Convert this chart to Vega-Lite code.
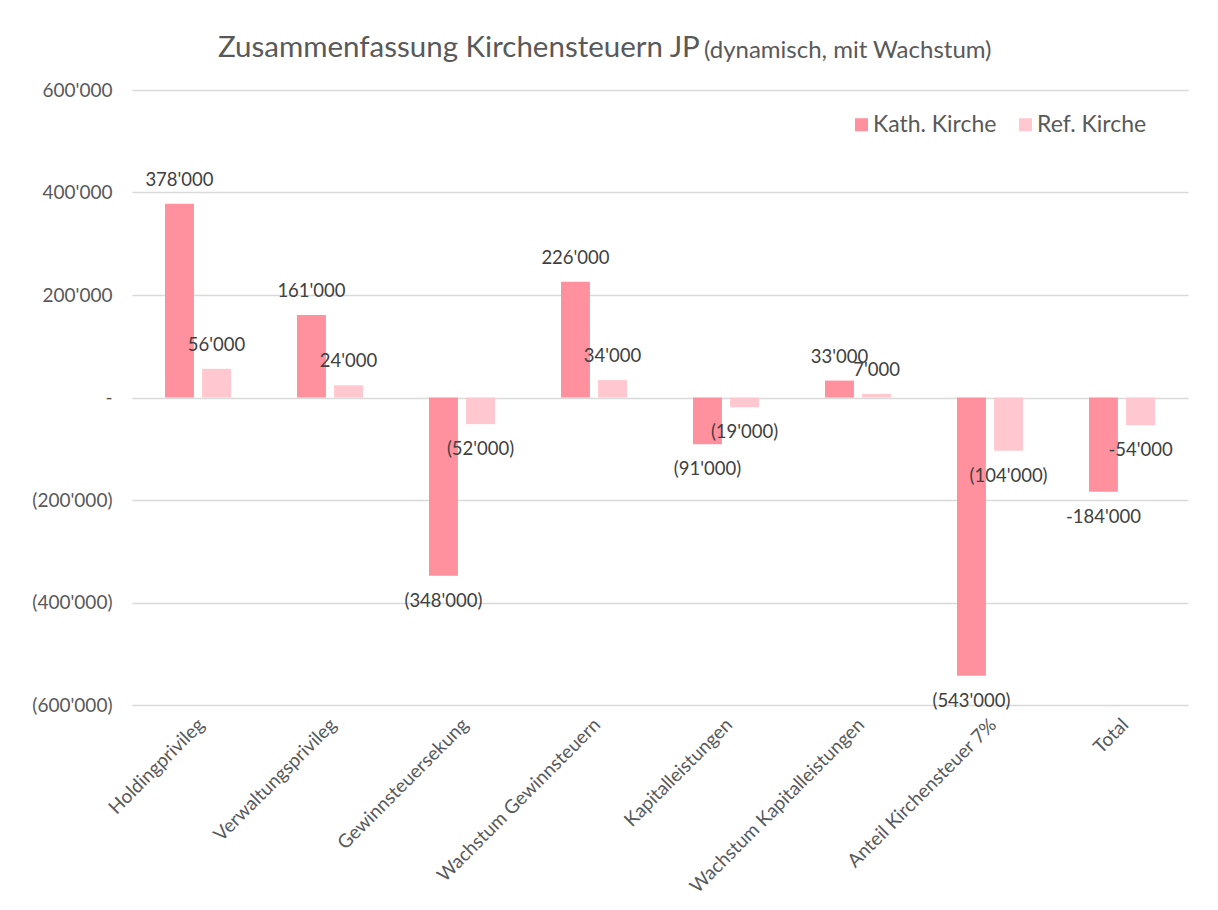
{
  "$schema": "https://vega.github.io/schema/vega-lite/v6.json",
  "width": 1056,
  "height": 615,
  "autosize": {"type": "none"},
  "padding": {"left": 132, "top": 90, "right": 30, "bottom": 205},
  "background": "white",
  "config": {
    "font": "Lato",
    "view": {"stroke": null}
  },
  "title": {
    "text": "Zusammenfassung Kirchensteuern JP",
    "subtitle": "\u200B\u2003\u2003\u2003\u2003\u2003\u2003\u2003\u2003\u2003\u2003\u2003\u2003\u2003\u2003\u2003\u2003\u2003\u2003\u2003\u2003\u2003\u2003\u2003\u2003\u2003\u2003\u2003(dynamisch, mit Wachstum)",
    "anchor": "start",
    "frame": "group",
    "dx": 86,
    "offset": 17,
    "font": "Lato",
    "fontSize": 29.5,
    "fontWeight": "normal",
    "color": "#595959",
    "subtitleFont": "Lato",
    "subtitleFontSize": 24,
    "subtitleColor": "#595959",
    "subtitlePadding": -24.5
  },
  "data": {
    "values": [
      {"kategorie": "Holdingprivileg", "kirche": "Kath. Kirche", "wert": 378000, "label": "378'000"},
      {"kategorie": "Holdingprivileg", "kirche": "Ref. Kirche", "wert": 56000, "label": "56'000"},
      {"kategorie": "Verwaltungsprivileg", "kirche": "Kath. Kirche", "wert": 161000, "label": "161'000"},
      {"kategorie": "Verwaltungsprivileg", "kirche": "Ref. Kirche", "wert": 24000, "label": "24'000"},
      {"kategorie": "Gewinnsteuersekung", "kirche": "Kath. Kirche", "wert": -348000, "label": "(348'000)"},
      {"kategorie": "Gewinnsteuersekung", "kirche": "Ref. Kirche", "wert": -52000, "label": "(52'000)"},
      {"kategorie": "Wachstum  Gewinnsteuern", "kirche": "Kath. Kirche", "wert": 226000, "label": "226'000"},
      {"kategorie": "Wachstum  Gewinnsteuern", "kirche": "Ref. Kirche", "wert": 34000, "label": "34'000"},
      {"kategorie": "Kapitalleistungen", "kirche": "Kath. Kirche", "wert": -91000, "label": "(91'000)"},
      {"kategorie": "Kapitalleistungen", "kirche": "Ref. Kirche", "wert": -19000, "label": "(19'000)"},
      {"kategorie": "Wachstum Kapitalleistungen", "kirche": "Kath. Kirche", "wert": 33000, "label": "33'000"},
      {"kategorie": "Wachstum Kapitalleistungen", "kirche": "Ref. Kirche", "wert": 7000, "label": "7'000"},
      {"kategorie": "Anteil Kirchensteuer 7%", "kirche": "Kath. Kirche", "wert": -543000, "label": "(543'000)"},
      {"kategorie": "Anteil Kirchensteuer 7%", "kirche": "Ref. Kirche", "wert": -104000, "label": "(104'000)"},
      {"kategorie": "Total", "kirche": "Kath. Kirche", "wert": -184000, "label": "-184'000"},
      {"kategorie": "Total", "kirche": "Ref. Kirche", "wert": -54000, "label": "-54'000"}
    ]
  },
  "encoding": {
    "x": {
      "field": "kategorie",
      "type": "nominal",
      "sort": null,
      "scale": {"paddingInner": 0.5, "paddingOuter": 0.25},
      "axis": {
        "title": null,
        "labelAngle": -45,
        "labelFontSize": 19,
        "labelColor": "#595959",
        "labelPadding": 10,
        "labelOffset": -3,
        "domain": false,
        "ticks": false,
        "grid": false,
        "labelLimit": 400
      }
    },
    "xOffset": {
      "field": "kirche",
      "type": "nominal",
      "sort": ["Kath. Kirche", "Ref. Kirche"],
      "scale": {"paddingInner": 0.22}
    },
    "y": {
      "field": "wert",
      "type": "quantitative",
      "scale": {"domain": [-600000, 600000]},
      "axis": {
        "title": null,
        "values": [-600000, -400000, -200000, 0, 200000, 400000, 600000],
        "labelExpr": "datum.value == 0 ? '-' : (datum.value < 0 ? '(' + replace(format(-datum.value, ','), ',', \"'\") + ')' : replace(format(datum.value, ','), ',', \"'\"))",
        "labelFontSize": 19,
        "labelColor": "#595959",
        "labelPadding": 20,
        "domain": false,
        "ticks": false,
        "gridColor": "#D9D9D9",
        "gridWidth": 1.5
      }
    }
  },
  "layer": [
    {
      "mark": {"type": "bar"},
      "encoding": {
        "color": {
          "field": "kirche",
          "type": "nominal",
          "scale": {"domain": ["Kath. Kirche", "Ref. Kirche"], "range": ["#FF909E", "#FFC8D0"]},
          "legend": {
            "title": null,
            "orient": "none",
            "legendX": 718,
            "legendY": 23,
            "direction": "horizontal",
            "symbolType": "square",
            "symbolSize": 170,
            "symbolStrokeWidth": 0,
            "labelFontSize": 23,
            "labelColor": "#595959",
            "labelOffset": 0,
            "columnPadding": 17
          }
        }
      }
    },
    {
      "transform": [{"filter": "datum.wert >= 0"}],
      "mark": {"type": "text", "dy": -24, "baseline": "middle", "fontSize": 18.5, "color": "#404040"},
      "encoding": {"text": {"field": "label"}}
    },
    {
      "transform": [{"filter": "datum.wert < 0"}],
      "mark": {"type": "text", "dy": 25, "baseline": "middle", "fontSize": 18.5, "color": "#404040"},
      "encoding": {"text": {"field": "label"}}
    }
  ]
}
